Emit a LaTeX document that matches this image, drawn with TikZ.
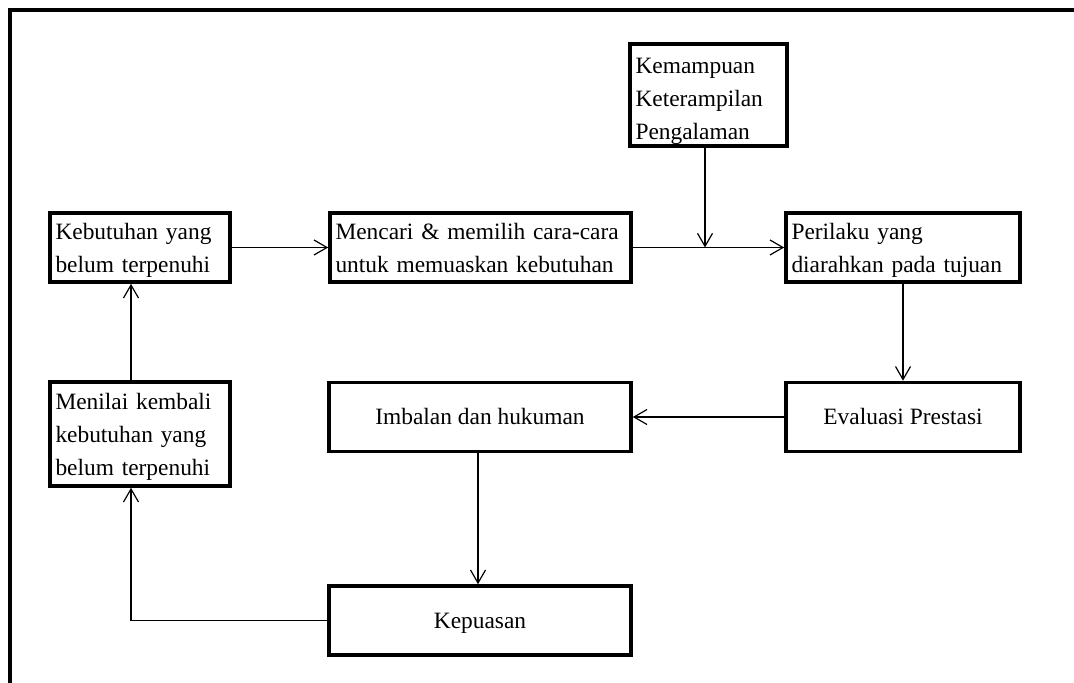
\documentclass[tikz,border=0pt]{standalone}
\usepackage{fontspec}
\setmainfont{Liberation Serif}
\usetikzlibrary{arrows.meta}
\begin{document}
\begin{tikzpicture}[x=0.5pt,y=-0.5pt,
  box/.style={draw, line width=1.8pt, rectangle, font=\fontsize{11.7pt}{16.5pt}\selectfont, inner xsep=2.75pt, inner ysep=0pt},
  multi/.style={box, align=left, text width=#1},
  single/.style={box, align=center, text height=7.9pt, text depth=0pt},
  conn/.style={line width=0.6pt, -{Straight Barb[length=6.5pt,width=7.5pt]}},
  plain/.style={line width=0.6pt}]

\useasboundingbox (0,0) rectangle (1074,683);
\draw[line width=1.6pt] (1074,10) -- (10,10) -- (10,683);

\node[multi=84.5pt, minimum width=90pt, minimum height=34.5pt, text height=8pt, text depth=15.5pt] (kb) at (140,247.5) {Kebutuhan yang\\belum terpenuhi};
\node[multi=145pt, minimum width=150.5pt, minimum height=34.5pt, text height=8pt, text depth=15.5pt] (mc) at (480.5,247.5) {Mencari \& memilih cara-cara\\untuk memuaskan kebutuhan};
\node[multi=73pt, minimum width=78.5pt, minimum height=51pt, text height=8pt, text depth=29.7pt] (km) at (708.5,95) {Kemampuan\\Keterampilan\\Pengalaman};
\node[multi=111.5pt, minimum width=117pt, minimum height=34.5pt, text height=8pt, text depth=15.5pt] (pr) at (903,247.5) {Perilaku yang\\diarahkan pada tujuan};
\node[single, minimum width=117pt, minimum height=34.5pt] (ev) at (903,417) {Evaluasi Prestasi};
\node[single, minimum width=151pt, minimum height=34.5pt] (im) at (480,417) {Imbalan dan hukuman};
\node[single, minimum width=151pt, minimum height=34.5pt] (kp) at (480,620.5) {Kepuasan};
\node[multi=84.5pt, minimum width=90pt, minimum height=52pt, text height=8pt, text depth=33pt] (mn) at (140,434) {Menilai kembali\\kebutuhan yang\\belum terpenuhi};

\coordinate (j) at (705,247.5);
\coordinate (c) at (131,620.5);

\draw[conn] (kb.east) -- (mc.west);
\draw[conn] (mc.east) -- (pr.west);
\draw[conn] (km.south -| j) -- (j);
\draw[conn] (pr.south) -- (ev.north);
\draw[conn] (ev.west) -- (im.east);
\draw[conn] (im.south -| 478,0) -- (kp.north -| 478,0);
\draw[conn] (kp.west) -- (c) -- (c |- mn.south);
\draw[conn] (mn.north -| c) -- (kb.south -| c);
\end{tikzpicture}
\end{document}
